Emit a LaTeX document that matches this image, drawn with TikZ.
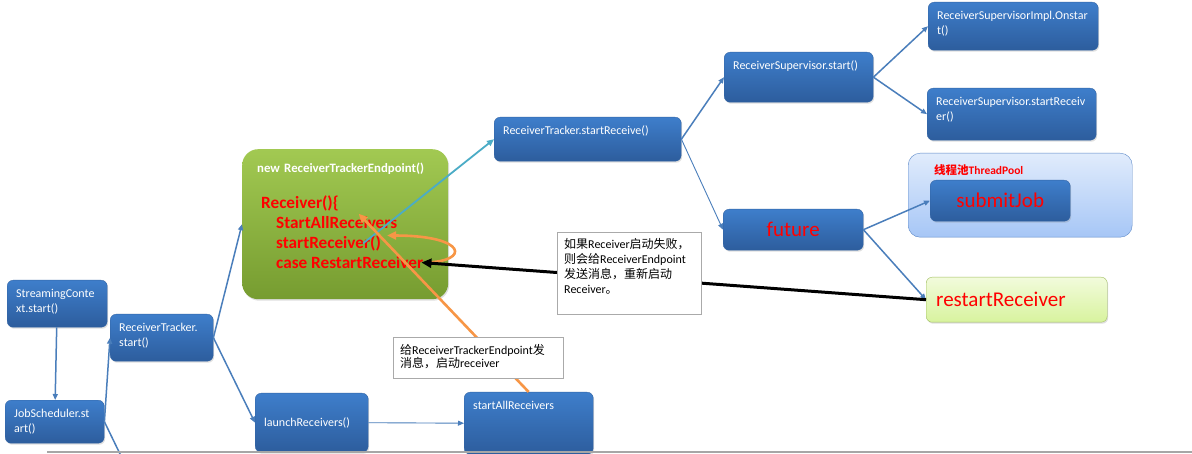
\documentclass[tikz,border=0pt]{standalone}
\usepackage{fontspec}
\setmainfont{Carlito}
\newfontfamily\zhfont{Noto Sans CJK SC}
\newcommand{\zh}[1]{{\zhfont #1}}
\hyphenpenalty=10000
\usetikzlibrary{arrows.meta,shadows}
\definecolor{RtBlueTop}{RGB}{62,126,203}
\definecolor{RtBlueBot}{RGB}{45,93,157}
\definecolor{RtBlueEdge}{RGB}{52,101,164}
\definecolor{RtArrow}{RGB}{74,126,187}
\definecolor{RtCyan}{RGB}{75,172,198}
\definecolor{RtOrange}{RGB}{247,150,70}
\definecolor{RtGreenTop}{RGB}{162,201,82}
\definecolor{RtGreenBot}{RGB}{118,156,48}
\definecolor{RtPoolTop}{RGB}{225,236,252}
\definecolor{RtPoolBot}{RGB}{166,198,246}
\definecolor{RtPoolEdge}{RGB}{92,136,200}
\definecolor{RtLimeTop}{RGB}{242,251,220}
\definecolor{RtLimeBot}{RGB}{216,243,158}
\definecolor{RtLimeEdge}{RGB}{160,190,95}
\definecolor{RtNoteEdge}{RGB}{170,170,170}
\definecolor{RtRule}{RGB}{166,166,166}
\tikzset{
  rt/shadow/.style={
    drop shadow={shadow xshift=1pt, shadow yshift=-1.5pt, opacity=0.25}
  },
  rt/box/.style={
    anchor=north west,
    rounded corners=6pt,
    top color=RtBlueTop,
    bottom color=RtBlueBot,
    draw=RtBlueEdge,
    thin,
    text=white,
    align=left,
    inner xsep=9pt,
    inner ysep=4pt,
    text height=13.5pt,
    font=\fontsize{12}{14.5}\selectfont,
    rt/shadow
  },
  rt/bigbox/.style={
    anchor=north west,
    rounded corners=6pt,
    top color=RtBlueTop,
    bottom color=RtBlueBot,
    draw=RtBlueEdge,
    thin,
    text=red,
    align=center,
    inner sep=0pt,
    font=\fontsize{21}{24}\selectfont,
    rt/shadow
  },
  rt/limebox/.style={
    anchor=north west,
    rounded corners=6pt,
    top color=RtLimeTop,
    bottom color=RtLimeBot,
    draw=RtLimeEdge,
    thin,
    text=red,
    align=left,
    inner xsep=10pt,
    font=\fontsize{21}{24}\selectfont,
    rt/shadow
  },
  rt/pool/.style={
    anchor=north west,
    rounded corners=12pt,
    top color=RtPoolTop,
    bottom color=RtPoolBot,
    draw=RtPoolEdge,
    thin,
    text=red,
    align=left,
    inner xsep=26pt,
    inner ysep=4pt,
    font=\bfseries\fontsize{11.5}{14}\selectfont
  },
  rt/endpoint/.style={
    anchor=north west,
    rounded corners=16pt,
    top color=RtGreenTop,
    bottom color=RtGreenBot,
    draw=none,
    text=white,
    align=left,
    inner xsep=15pt,
    inner ysep=4pt,
    font=\bfseries\fontsize{12.8}{14}\selectfont,
    rt/shadow
  },
  rt/code/.style={anchor=base west, inner sep=0pt, text=red, font=\bfseries\fontsize{17.2}{19.5}\selectfont},
  rt/note/.style={
    anchor=north west,
    draw=RtNoteEdge,
    fill=white,
    text=black,
    align=left,
    inner xsep=7pt,
    inner ysep=4pt,
    font=\fontsize{12}{15}\selectfont
  },
  rt/arrow/.style={-{Triangle[length=6pt,width=5pt]}, line width=1.5pt, draw=RtArrow},
  rt/thinarrow/.style={-{Triangle[length=6pt,width=5pt]}, line width=0.9pt, draw=RtArrow},
  rt/line/.style={line width=1.5pt, draw=RtArrow},
  rt/cyanarrow/.style={-{Triangle[length=7pt,width=6pt]}, line width=1.8pt, draw=RtCyan},
  rt/orangearrow/.style={-{Triangle[length=9pt,width=8pt]}, line width=2.6pt, draw=RtOrange},
  rt/blackarrow/.style={-{Triangle[length=10pt,width=9pt]}, line width=3pt, draw=black},
  rt/rule/.style={line width=1.5pt, draw=RtRule}
}

\begin{document}
\begin{tikzpicture}[x=1pt,y=-1pt]
  \useasboundingbox[fill=white] (0,0) rectangle (1192,454);
  % left column
  \node[rt/box,text width=82pt,text depth=25.5pt] (sctx) at (7,280) {StreamingConte\\xt.start()};
  \node[rt/box,text width=81pt,text depth=21.5pt] (jobs) at (5,400) {JobScheduler.st\\art()};
  \node[rt/box,text width=85pt,text depth=25.5pt] (rtstart) at (110,314) {ReceiverTracker.\\start()};
  \node[rt/box,text width=95pt,text height=29pt,text depth=22pt] (launch) at (255,393) {launchReceivers()};
  \node[rt/box,text width=111pt,text depth=40.5pt] (startAllRcv) at (464,392) {startAllReceivers};
  % endpoint
  \node[rt/endpoint,text width=176pt,text height=19pt,text depth=123pt] (endpoint) at (242,149) {new ReceiverTrackerEndpoint()};
  \node[rt/code] (codeopen) at (261,209) {Receiver()\{};
  \node[rt/code] (codestartall) at (276,228.5) {StartAllReceivers};
  \node[rt/code] (codestartrcv) at (276,248.5) {startReceiver()};
  \node[rt/code] (coderestart) at (276,268.5) {case RestartReceiver};
  % right side
  \node[rt/box,text width=169pt,text depth=22.5pt] (startRcvBox) at (494,117) {ReceiverTracker.startReceive()};
  \node[rt/box,text width=131pt,text depth=28.5pt] (supStart) at (724,52) {ReceiverSupervisor.start()};
  \node[rt/box,text width=152pt,text depth=26.5pt] (onStart) at (928,2) {ReceiverSupervisorImpl.Onstar\\t()};
  \node[rt/box,text width=151pt,text depth=30.5pt] (supRcv) at (927,88) {ReceiverSupervisor.startReceiv\\er()};
  \node[rt/pool,text width=172pt,text height=17pt,text depth=59pt] (pool) at (908,153) {\zh{线程池}ThreadPool};
  \node[rt/bigbox,minimum width=140pt,minimum height=41pt] (submit) at (930,180) {submitJob};
  \node[rt/bigbox,minimum width=140pt,minimum height=41pt] (future) at (723,209) {future};
  \node[rt/limebox,text width=161pt,minimum height=45pt] (restart) at (926,277) {restartReceiver};
  \coordinate (offpage) at (121,456);
  % connectors
  \draw[rt/arrow] (sctx) -- (jobs);
  \draw[rt/arrow] (jobs.east) -- (rtstart.west);
  \draw[rt/line] (jobs.east) -- (offpage);
  \draw[rt/arrow] (rtstart.east) -- (endpoint.west);
  \draw[rt/arrow] (rtstart.east) -- (launch.west);
  \draw[rt/thinarrow] (launch.east) -- (startAllRcv.west);
  \draw[rt/arrow] (startRcvBox.east) -- (supStart.west);
  \draw[rt/thinarrow] (startRcvBox.east) -- (future.west);
  \draw[rt/arrow] (supStart.east) -- (onStart.west);
  \draw[rt/arrow] (supStart.east) -- (supRcv.west);
  \draw[rt/arrow] (future.east) -- (submit.west);
  \draw[rt/arrow] (future.east) -- (restart.west);
  \draw[rt/cyanarrow] ([xshift=-18pt]codestartrcv.east) -- (startRcvBox.west);
  \draw[rt/orangearrow] (startAllRcv.north) -- ([shift={(22,-2.5)}]codestartall.north);
  \draw[rt/orangearrow] ([xshift=2pt]coderestart.east) .. controls +(45,-1) and +(80,0) .. ([xshift=6pt]codestartrcv.north east);
  \draw[rt/blackarrow] (restart.west) -- ([xshift=-2pt]coderestart.east);
  % notes
  \node[rt/note,text width=130pt,text height=12pt,text depth=62pt] (failnote) at (557,232)
    {\zh{如果}Receiver\zh{启动失败，}\\\zh{则会给}ReceiverEndpoint\\\zh{发送消息，重新启动}\\Receiver\zh{。}};
  \node[rt/note,text width=156pt,text height=13.5pt,text depth=19.5pt,font=\fontsize{12}{13}\selectfont] (sendnote) at (393,337)
    {\zh{给}ReceiverTrackerEndpoint\zh{发}\\\zh{消息，启动}receiver};
  \coordinate (rulestart) at (47,452);
  \coordinate (ruleend) at (1192,452);
  \draw[rt/rule] (rulestart) -- (ruleend);
\end{tikzpicture}
\end{document}
